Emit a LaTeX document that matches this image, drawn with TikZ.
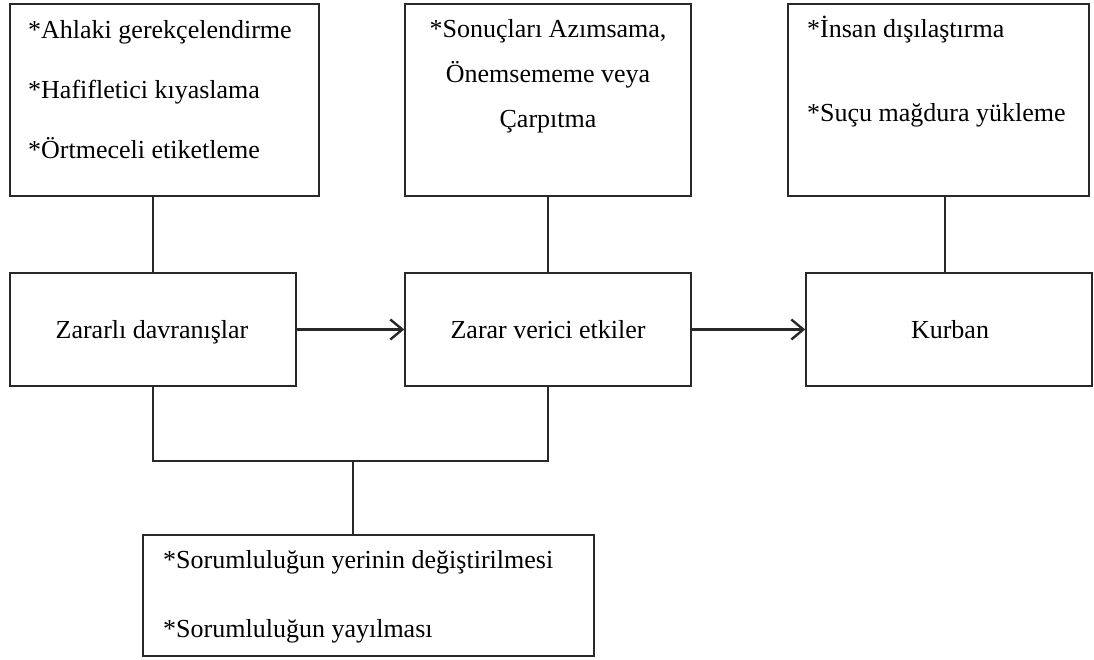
\documentclass[tikz,border=0pt]{standalone}
\usepackage{fontspec}
\setmainfont{Liberation Serif}
\usetikzlibrary{arrows.meta}
\definecolor{linec}{RGB}{40,40,40}
\begin{document}
\begin{tikzpicture}[x=1pt,y=-1pt,
  box/.style={draw=linec, line width=1.6pt, rectangle, inner sep=0pt},
  ltxt/.style={font=\fontsize{26}{30}\selectfont, inner sep=0pt, anchor=base west},
  ctxt/.style={font=\fontsize{26}{30}\selectfont, inner sep=0pt, anchor=base},
  conn/.style={draw=linec, line width=1.6pt},
  arr/.style={draw=linec, line width=2.4pt, -{Straight Barb[length=12pt,width=20pt]}}]
\useasboundingbox (0,0) rectangle (1094,660);

% boxes
\node[box, minimum width=309pt, minimum height=192pt] (tl) at (164.5,100) {};
\node[box, minimum width=286pt, minimum height=192pt] (tm) at (548,100) {};
\node[box, minimum width=301pt, minimum height=192pt] (tr) at (938.5,100) {};
\node[box, minimum width=286pt, minimum height=113pt] (ml) at (153,329.5) {};
\node[box, minimum width=286pt, minimum height=113pt] (mm) at (548,329.5) {};
\node[box, minimum width=286pt, minimum height=113pt] (mr) at (949,329.5) {};
\node[box, minimum width=451pt, minimum height=121pt] (bt) at (368.5,595.5) {};

% texts
\node[ltxt] (t1a) at (28,39) {*Ahlaki gerekçelendirme};
\node[ltxt] (t1b) at (28,99) {*Hafifletici kıyaslama};
\node[ltxt] (t1c) at (28,159) {*Örtmeceli etiketleme};

\node[ctxt] (t2a) at (548,38) {*Sonuçları Azımsama,};
\node[ctxt] (t2b) at (548,83) {Önemsememe veya};
\node[ctxt] (t2c) at (548,128) {Çarpıtma};

\node[ltxt] (t3a) at (807,38) {*İnsan dışılaştırma};
\node[ltxt] (t3b) at (807,122) {*Suçu mağdura yükleme};

\node[ctxt] (m1) at (152,338) {Zararlı davranışlar};
\node[ctxt] (m2) at (548,338) {Zarar verici etkiler};
\node[ctxt] (m3) at (950,338) {Kurban};

\node[ltxt] (b1) at (163,568) {*Sorumluluğun yerinin değiştirilmesi};
\node[ltxt] (b2) at (163,637) {*Sorumluluğun yayılması};

% connectors
\draw[conn] (ml.north) -- (ml.north |- tl.south);
\draw[conn] (mm.north) -- (mm.north |- tm.south);
\coordinate (c3) at (945,0);
\draw[conn] (tr.south -| c3) -- (mr.north -| c3);

\coordinate (jn) at (353,461);
\draw[conn] (ml.south) -- (ml.south |- jn) -- (mm.south |- jn) -- (mm.south);
\draw[conn] (jn) -- (jn |- bt.north);

\draw[arr] (ml.east) -- (mm.west);
\draw[arr] (mm.east) -- (mr.west);
\end{tikzpicture}
\end{document}
